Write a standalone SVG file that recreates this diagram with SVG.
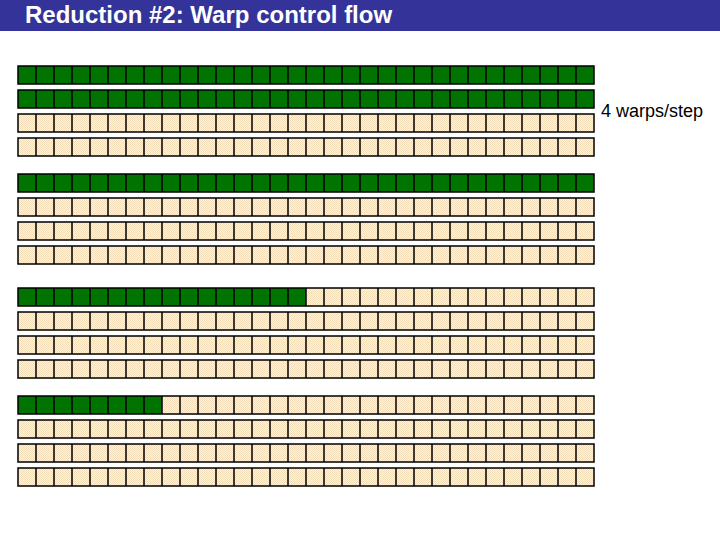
<svg xmlns="http://www.w3.org/2000/svg" xmlns:xlink="http://www.w3.org/1999/xlink" width="720" height="540" viewBox="0 0 720 540">
<style>
.title{font-family:"Liberation Sans",Arial,sans-serif;font-weight:bold;font-size:24px;fill:#ffffff}
.label{font-family:"Liberation Sans",Arial,sans-serif;font-size:18px;fill:#000000}
.g{fill:#007300}
.b{fill:url(#beige)}
.frame{fill:none;stroke:#000;stroke-width:1.5}
.vl{fill:none;stroke:#000;stroke-width:1.5}
</style>
<defs>
<pattern id="beige" patternUnits="userSpaceOnUse" width="2" height="2">
<rect width="2" height="2" fill="#fdf4e6"/>
<rect width="1" height="1" fill="#f3dcb8"/>
<rect x="1" y="1" width="1" height="1" fill="#f3dcb8"/>
</pattern>
<path id="vl" class="vl" d="M36,0v18m18-18v18m18-18v18m18-18v18m18-18v18m18-18v18m18-18v18m18-18v18m18-18v18m18-18v18m18-18v18m18-18v18m18-18v18m18-18v18m18-18v18m18-18v18m18-18v18m18-18v18m18-18v18m18-18v18m18-18v18m18-18v18m18-18v18m18-18v18m18-18v18m18-18v18m18-18v18m18-18v18m18-18v18m18-18v18m18-18v18"/>
<rect id="frame" class="frame" x="18" y="0" width="576" height="18"/>
</defs>
<rect width="720" height="540" fill="#ffffff"/>
<g id="title-bar">
<rect x="0" y="0" width="720" height="31" fill="#333399"/>
<text class="title" x="25" y="23">Reduction #2: Warp control flow</text>
</g>
<g id="step1">
<g id="s1r1" transform="translate(0,66)"><rect class="g" x="18" width="576" height="18"/><use xlink:href="#vl"/><use xlink:href="#frame"/></g>
<g id="s1r2" transform="translate(0,90)"><rect class="g" x="18" width="576" height="18"/><use xlink:href="#vl"/><use xlink:href="#frame"/></g>
<g id="s1r3" transform="translate(0,114)"><rect class="b" x="18" width="576" height="18"/><use xlink:href="#vl"/><use xlink:href="#frame"/></g>
<g id="s1r4" transform="translate(0,138)"><rect class="b" x="18" width="576" height="18"/><use xlink:href="#vl"/><use xlink:href="#frame"/></g>
</g>
<g id="step2">
<g id="s2r1" transform="translate(0,174)"><rect class="g" x="18" width="576" height="18"/><use xlink:href="#vl"/><use xlink:href="#frame"/></g>
<g id="s2r2" transform="translate(0,198)"><rect class="b" x="18" width="576" height="18"/><use xlink:href="#vl"/><use xlink:href="#frame"/></g>
<g id="s2r3" transform="translate(0,222)"><rect class="b" x="18" width="576" height="18"/><use xlink:href="#vl"/><use xlink:href="#frame"/></g>
<g id="s2r4" transform="translate(0,246)"><rect class="b" x="18" width="576" height="18"/><use xlink:href="#vl"/><use xlink:href="#frame"/></g>
</g>
<g id="step3">
<g id="s3r1" transform="translate(0,288)"><rect class="b" x="18" width="576" height="18"/><rect class="g" x="18" width="288" height="18"/><use xlink:href="#vl"/><use xlink:href="#frame"/></g>
<g id="s3r2" transform="translate(0,312)"><rect class="b" x="18" width="576" height="18"/><use xlink:href="#vl"/><use xlink:href="#frame"/></g>
<g id="s3r3" transform="translate(0,336)"><rect class="b" x="18" width="576" height="18"/><use xlink:href="#vl"/><use xlink:href="#frame"/></g>
<g id="s3r4" transform="translate(0,360)"><rect class="b" x="18" width="576" height="18"/><use xlink:href="#vl"/><use xlink:href="#frame"/></g>
</g>
<g id="step4">
<g id="s4r1" transform="translate(0,396)"><rect class="b" x="18" width="576" height="18"/><rect class="g" x="18" width="144" height="18"/><use xlink:href="#vl"/><use xlink:href="#frame"/></g>
<g id="s4r2" transform="translate(0,420)"><rect class="b" x="18" width="576" height="18"/><use xlink:href="#vl"/><use xlink:href="#frame"/></g>
<g id="s4r3" transform="translate(0,444)"><rect class="b" x="18" width="576" height="18"/><use xlink:href="#vl"/><use xlink:href="#frame"/></g>
<g id="s4r4" transform="translate(0,468)"><rect class="b" x="18" width="576" height="18"/><use xlink:href="#vl"/><use xlink:href="#frame"/></g>
</g>
<g id="label">
<text class="label" x="601" y="117">4 warps/step</text>
</g>
<g id="connectors"/>
</svg>
